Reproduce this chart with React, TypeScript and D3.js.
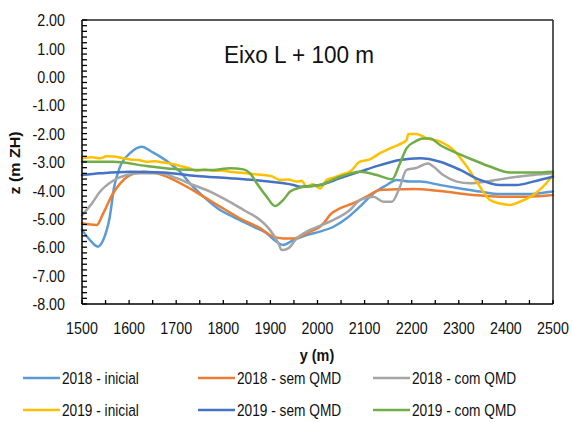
import React from "react";
import * as d3 from "d3";

const W = 572, H = 422;
const M = { left: 82, right: 553, top: 20, bottom: 304 };

const seriesNames = ["2018 - inicial", "2018 - sem QMD", "2018 - com QMD", "2019 - inicial", "2019 - sem QMD", "2019 - com QMD"];
const seriesColors = ["#5B9BD5", "#ED7D31", "#A5A5A5", "#FFC000", "#4472C4", "#70AD47"];

const y18ini = [1500, 1517, 1534, 1545, 1559, 1568, 1580, 1602, 1627, 1648, 1666, 1687, 1708, 1729, 1758, 1793, 1821, 1864, 1892, 1913, 1927, 1949, 1977, 2005, 2034, 2062, 2090, 2119, 2147, 2168, 2196, 2218, 2260, 2303, 2345, 2387, 2444, 2500];
const z18ini = [-5.39, -5.75, -5.98, -5.75, -4.93, -3.9, -3.2, -2.69, -2.46, -2.64, -2.81, -3.05, -3.34, -3.75, -4.22, -4.69, -4.93, -5.28, -5.51, -5.81, -5.92, -5.75, -5.57, -5.45, -5.28, -4.98, -4.57, -4.10, -3.81, -3.63, -3.69, -3.69, -3.81, -3.93, -4.04, -4.13, -4.13, -4.04];

const y18sem = [1500, 1531, 1545, 1566, 1580, 1602, 1630, 1659, 1687, 1722, 1758, 1793, 1835, 1878, 1906, 1927, 1949, 1984, 2005, 2016, 2027, 2041, 2076, 2104, 2133, 2175, 2203, 2260, 2331, 2387, 2444, 2500];
const z18sem = [-5.16, -5.22, -4.81, -4.10, -3.78, -3.46, -3.34, -3.40, -3.57, -3.87, -4.22, -4.57, -4.98, -5.33, -5.63, -5.69, -5.69, -5.45, -5.28, -5.1, -4.85, -4.69, -4.45, -4.22, -3.99, -3.96, -3.95, -4.02, -4.16, -4.22, -4.22, -4.16];

const y18com = [1500, 1521, 1538, 1566, 1595, 1623, 1666, 1701, 1736, 1772, 1807, 1843, 1878, 1899, 1917, 1924, 1938, 1956, 1984, 2005, 2034, 2069, 2090, 2119, 2140, 2158, 2175, 2189, 2207, 2235, 2246, 2267, 2296, 2324, 2359, 2402, 2458, 2500];
const z18com = [-4.87, -4.46, -4.05, -3.66, -3.46, -3.40, -3.40, -3.57, -3.81, -4.04, -4.34, -4.69, -5.04, -5.39, -5.86, -6.10, -6.04, -5.69, -5.39, -5.25, -5.04, -4.69, -4.34, -4.22, -4.40, -4.40, -3.87, -3.28, -3.22, -3.05, -3.16, -3.46, -3.69, -3.75, -3.69, -3.57, -3.46, -3.40];

const y19ini = [1500, 1520, 1538, 1552, 1566, 1585, 1602, 1620, 1637, 1655, 1673, 1690, 1708, 1725, 1743, 1760, 1779, 1797, 1814, 1832, 1850, 1868, 1885, 1903, 1920, 1938, 1956, 1966, 1977, 1990, 2005, 2020, 2034, 2048, 2069, 2090, 2111, 2133, 2154, 2175, 2189, 2193, 2210, 2232, 2260, 2289, 2317, 2345, 2366, 2387, 2409, 2430, 2458, 2479, 2500];
const z19ini = [-2.87, -2.83, -2.87, -2.80, -2.81, -2.86, -2.91, -2.93, -2.99, -2.97, -3.02, -3.06, -3.14, -3.20, -3.31, -3.26, -3.31, -3.30, -3.34, -3.37, -3.40, -3.43, -3.46, -3.50, -3.63, -3.62, -3.69, -3.66, -3.87, -3.78, -3.93, -3.63, -3.55, -3.46, -3.34, -2.99, -2.91, -2.69, -2.52, -2.37, -2.23, -2.01, -2.01, -2.17, -2.28, -2.58, -3.16, -3.87, -4.34, -4.46, -4.51, -4.40, -4.16, -3.87, -3.46];

const y19sem = [1500, 1538, 1602, 1673, 1743, 1814, 1885, 1949, 1963, 2005, 2048, 2090, 2133, 2175, 2218, 2260, 2303, 2345, 2387, 2423, 2458, 2500];
const z19sem = [-3.46, -3.40, -3.34, -3.37, -3.49, -3.57, -3.67, -3.81, -3.87, -3.81, -3.57, -3.34, -3.11, -2.93, -2.87, -2.99, -3.28, -3.63, -3.81, -3.81, -3.69, -3.52];

const y19com = [1500, 1566, 1637, 1708, 1779, 1814, 1843, 1857, 1871, 1892, 1910, 1927, 1942, 1963, 2005, 2048, 2090, 2126, 2158, 2175, 2189, 2207, 2225, 2239, 2260, 2296, 2331, 2366, 2409, 2458, 2500];
const z19com = [-2.99, -2.99, -3.14, -3.26, -3.28, -3.22, -3.26, -3.40, -3.75, -4.22, -4.55, -4.34, -4.04, -3.90, -3.81, -3.52, -3.34, -3.46, -3.61, -3.05, -2.52, -2.28, -2.17, -2.17, -2.40, -2.69, -2.93, -3.16, -3.37, -3.37, -3.34];

const seriesX = [y18ini, y18sem, y18com, y19ini, y19sem, y19com];
const seriesZ = [z18ini, z18sem, z18com, z19ini, z19sem, z19com];

const xTicks = [1500, 1600, 1700, 1800, 1900, 2000, 2100, 2200, 2300, 2400, 2500];
const yTicks = [2, 1, 0, -1, -2, -3, -4, -5, -6, -7, -8];

const title = "Eixo L + 100 m";
const xTitle = "y (m)";
const yTitle = "z (m ZH)";

const SANS = "'Liberation Sans', Arial, sans-serif";

function NText(props: {
  x: number; y: number; size: number; sx?: number; anchor?: string; dy?: string; weight?: string; rotate?: number; children: React.ReactNode;
}) {
  const { x, y, size, sx = 0.84, anchor = "start", dy, weight = "normal", rotate = 0, children } = props;
  return (
    <text
      transform={`translate(${x},${y}) rotate(${rotate}) scale(${sx},1)`}
      textAnchor={anchor}
      dy={dy}
      fontFamily={SANS}
      fontSize={size}
      fontWeight={weight}
      fill="#111"
    >
      {children}
    </text>
  );
}

export default function App() {
  const x = d3.scaleLinear().domain([1500, 2500]).range([M.left, M.right]);
  const y = d3.scaleLinear().domain([-8, 2]).range([M.bottom, M.top]);
  const line = d3
    .line<[number, number]>()
    .x((d) => x(d[0]))
    .y((d) => y(d[1]))
    .curve(d3.curveMonotoneX);

  const minorY = d3.range(-8, 2.0001, 0.2);
  const minorX = d3.range(1500, 2500.1, 50);

  const legendCols = [23, 198, 373];
  const legendRows = [378, 410];

  return (
    <svg width={W} height={H} style={{ position: "absolute", left: 0, top: 0, background: "#fff" }}>
      <rect x={0} y={0} width={W} height={H} fill="#fff" />
      {seriesX.map((xs, i) => (
        <path
          key={i}
          d={line(xs.map((v, j) => [v, seriesZ[i][j]] as [number, number])) || ""}
          fill="none"
          stroke={seriesColors[i]}
          strokeWidth={2.5}
          strokeLinejoin="round"
          strokeLinecap="round"
        />
      ))}
      <line x1={M.left} x2={M.right} y1={M.top} y2={M.top} stroke="#222" strokeWidth={1.5} />
      <line x1={M.right} x2={M.right} y1={M.top} y2={M.bottom} stroke="#222" strokeWidth={1.5} />
      <line x1={M.left} x2={M.left} y1={M.top} y2={M.bottom} stroke="#000" strokeWidth={1.5} />
      <line x1={M.left} x2={M.right} y1={M.bottom} y2={M.bottom} stroke="#000" strokeWidth={1.5} />
      {minorY.map((v, i) => (
        <line key={"my" + i} x1={M.left} x2={M.left + 5} y1={y(v)} y2={y(v)} stroke="#000" strokeWidth={1.3} />
      ))}
      {minorX.map((v, i) => (
        <line key={"mx" + i} x1={x(v)} x2={x(v)} y1={M.bottom} y2={M.bottom - 4} stroke="#000" strokeWidth={1.3} />
      ))}
      {yTicks.map((v) => (
        <NText key={"yt" + v} x={65} y={y(v)} dy="0.36em" anchor="end" size={17}>
          {v.toFixed(2)}
        </NText>
      ))}
      {xTicks.map((v) => (
        <NText key={"xt" + v} x={x(v)} y={334} anchor="middle" size={17}>
          {v}
        </NText>
      ))}
      <NText x={299} y={63} anchor="middle" size={24} sx={0.94}>
        {title}
      </NText>
      <NText x={317} y={361} anchor="middle" size={16} sx={0.9} weight="bold">
        {xTitle}
      </NText>
      <text
        transform={`translate(20,163) rotate(-90) scale(1,0.9)`}
        textAnchor="middle"
        fontFamily={SANS}
        fontWeight="bold"
        fontSize={16}
        fill="#111"
      >
        {yTitle}
      </text>
      {seriesNames.map((n, i) => {
        const cx = legendCols[i % 3];
        const cy = legendRows[Math.floor(i / 3)];
        return (
          <g key={"lg" + i}>
            <line x1={cx} x2={cx + 37} y1={cy} y2={cy} stroke={seriesColors[i]} strokeWidth={2.5} />
            <NText x={cx + 39} y={cy} dy="0.36em" size={16.5} sx={0.83}>
              {n}
            </NText>
          </g>
        );
      })}
    </svg>
  );
}
